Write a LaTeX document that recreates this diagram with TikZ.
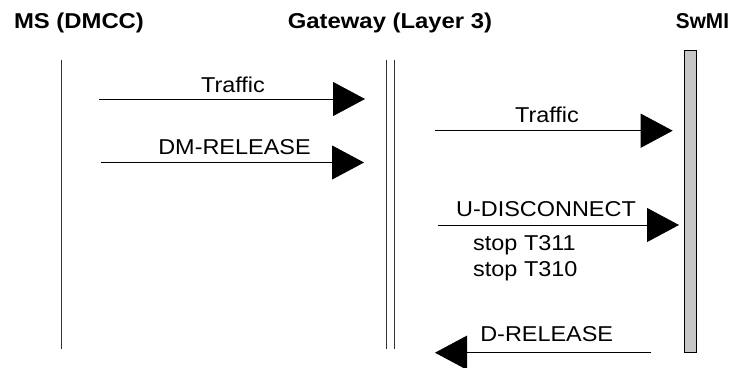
\documentclass[tikz,border=0pt]{standalone}
\usepackage{fontspec}
\setmainfont{Liberation Sans}
\usetikzlibrary{arrows.meta}
\tikzset{
    head/.style={font=\fontsize{21.5}{25}\selectfont\bfseries, xscale=1.11, anchor=base, inner sep=0pt},
    lbl/.style={font=\fontsize{21.5}{25}\selectfont, xscale=1.09, anchor=base, inner sep=0pt},
    msg/.style={line width=0.9pt, -{Triangle[length=32pt, width=34pt]}},
    life/.style={line width=0.9pt, black!80}
}

\begin{document}
\begin{tikzpicture}[x=1pt, y=-1pt]
    \useasboundingbox (0,0) rectangle (739,367);

    % Headings
    \node[head] (ms) at (79, 28.5) {MS (DMCC)};
    \node[head] (gw) at (390, 28.5) {Gateway (Layer 3)};
    \node[head, xscale=0.87] (swmi) at (702.5, 28.5) {SwMI};

    % Life lines
    \coordinate (ms top) at (61, 60);
    \coordinate (ms bot) at (61, 349);
    \coordinate (gw top) at (390.5, 60);
    \coordinate (gw bot) at (390.5, 349);
    \draw[life] (ms top) -- (ms bot);
    \draw[life] ([xshift=-4pt]gw top) -- ([xshift=-4pt]gw bot);
    \draw[life] ([xshift=4pt]gw top) -- ([xshift=4pt]gw bot);

    % SwMI bar
    \draw[fill=black!22, line width=0.8pt] (684, 50) rectangle (696, 352);

    % MS -> Gateway
    \coordinate (tr1 s) at (99, 99);
    \coordinate (tr1 e) at (365, 99);
    \draw[msg] (tr1 s) -- (tr1 e);
    \node[lbl] (tr1) at (233, 92) {Traffic};

    \coordinate (dmrel s) at (101, 162.5);
    \coordinate (dmrel e) at (364, 162.5);
    \draw[msg] (dmrel s) -- (dmrel e);
    \node[lbl] (dmrel) at (234.5, 154) {DM-RELEASE};

    % Gateway -> SwMI
    \coordinate (tr2 s) at (435, 130.7);
    \coordinate (tr2 e) at (672.7, 130.7);
    \draw[msg] (tr2 s) -- (tr2 e);
    \node[lbl] (tr2) at (547, 122.7) {Traffic};

    \coordinate (udisc s) at (438, 225);
    \coordinate (udisc e) at (679, 225);
    \draw[msg] (udisc s) -- (udisc e);
    \node[lbl] (udisc) at (546, 216.7) {U-DISCONNECT};
    \node[lbl, anchor=base west] (t311) at (473, 250) {stop T311};
    \node[lbl, anchor=base west] (t310) at (473, 276.5) {stop T310};

    % SwMI -> Gateway
    \coordinate (drel s) at (650.7, 352.7);
    \coordinate (drel e) at (435, 352.7);
    \draw[msg] (drel s) -- (drel e);
    \node[lbl] (drel) at (546.7, 341.7) {D-RELEASE};
\end{tikzpicture}
\end{document}
